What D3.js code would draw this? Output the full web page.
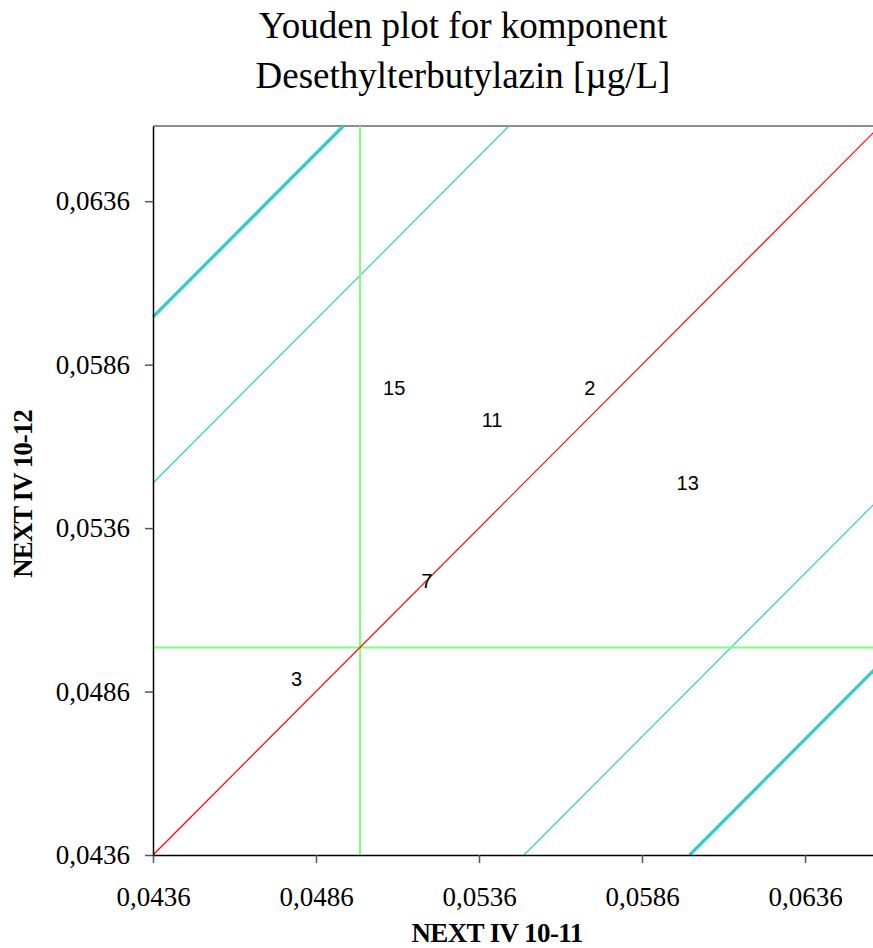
<!DOCTYPE html>
<html>
<head>
<meta charset="utf-8">
<script src="https://cdn.jsdelivr.net/npm/d3@7"></script>
<style>
  html, body { margin: 0; padding: 0; background: #fff; }
  svg { display: block; }
</style>
</head>
<body>
<div id="chart"></div>
<script>
// ---- data ----
const titleLines = ["Youden plot for komponent", "Desethylterbutylazin [\u00b5g/L]"];
const xTitle = "NEXT IV 10-11";
const yTitle = "NEXT IV 10-12";
const tickValues = [0.0436, 0.0486, 0.0536, 0.0586, 0.0636];
const axisMin = 0.0436, axisMax = 0.0659;
const labIds   = ["15", "11", "2", "13", "7", "3"];
const sampleA  = [0.0510, 0.0540, 0.0570, 0.0600, 0.0520, 0.0480];
const sampleB  = [0.0579, 0.0569, 0.0579, 0.0550, 0.0520, 0.0490];
const medianA = 0.04995, medianB = 0.04995;
const diagOffsets  = [0];
const innerOffsets = [-0.01138, 0.01138];
const outerOffsets = [-0.01646, 0.01646];

// ---- layout ----
const W = 873, H = 948;
const L = 153, T = 126, R = 880, B = 855;

const svg = d3.select("#chart").append("svg").attr("width", W).attr("height", H);

const x = d3.scaleLinear().domain([axisMin, axisMax]).range([L, R]);
const y = d3.scaleLinear().domain([axisMin, axisMax]).range([B, T]);
const fmt = v => d3.format(".4f")(v).replace(".", ",");

// title
svg.append("g").selectAll("text").data(titleLines).join("text")
  .attr("x", 463).attr("y", (d, i) => 38 + i * 50)
  .attr("text-anchor", "middle")
  .attr("font-family", "'Liberation Serif','Times New Roman',serif")
  .attr("font-size", 37).attr("fill", "#000").text(d => d);

// top frame border
svg.append("line").attr("x1", L).attr("x2", R).attr("y1", T).attr("y2", T)
  .attr("stroke", "#8c8c8c").attr("stroke-width", 2);

const plot = svg.append("g");

// compute segment of y = x + k clipped to the square domain
function seg(c) {
  const k = (medianB - medianA) + c;
  const x0 = Math.max(axisMin, axisMin - k), x1 = Math.min(axisMax, axisMax - k);
  return [x0, x0 + k, x1, x1 + k];
}
function drawOffsets(offs, color, width) {
  plot.append("g").selectAll("line").data(offs.map(seg)).join("line")
    .attr("x1", s => x(s[0])).attr("y1", s => y(s[1]))
    .attr("x2", s => x(s[2])).attr("y2", s => y(s[3]))
    .attr("stroke", color).attr("stroke-width", width)
    .attr("stroke-linecap", "butt");
}
drawOffsets(outerOffsets, "#33cccc", 3.2);
drawOffsets(innerOffsets, "#33cccc", 1.2);

// median lines
plot.append("line").attr("x1", x(medianA)).attr("x2", x(medianA)).attr("y1", T).attr("y2", B)
  .attr("stroke", "#80ff80").attr("stroke-width", 2);
plot.append("line").attr("x1", L).attr("x2", R).attr("y1", y(medianB)).attr("y2", y(medianB))
  .attr("stroke", "#80ff80").attr("stroke-width", 2);

drawOffsets(diagOffsets, "#ff0000", 1.2);

// lab labels
svg.append("g").selectAll("text").data(labIds).join("text")
  .attr("x", (d, i) => x(sampleA[i])).attr("y", (d, i) => y(sampleB[i]))
  .attr("dy", "0.36em").attr("text-anchor", "middle")
  .attr("font-family", "'Liberation Sans',Arial,sans-serif")
  .attr("font-size", 20).attr("fill", "#000").text(d => d);

// axes
const axisFont = "'Liberation Serif','Times New Roman',serif";
const gx = svg.append("g").attr("transform", `translate(0,${B})`)
  .call(d3.axisBottom(x).tickValues(tickValues).tickFormat(fmt).tickSize(8).tickSizeOuter(0).tickPadding(24));
const gy = svg.append("g").attr("transform", `translate(${L},0)`)
  .call(d3.axisLeft(y).tickValues(tickValues).tickFormat(fmt).tickSize(8).tickSizeOuter(0).tickPadding(15));
[gx, gy].forEach(g => {
  g.select(".domain").attr("stroke", "#000").attr("stroke-width", 1.5);
  g.selectAll(".tick line").attr("stroke", "#555").attr("stroke-width", 1.5);
  g.selectAll(".tick text").attr("font-family", axisFont).attr("font-size", 27).attr("fill", "#000");
});

// axis titles
svg.append("text").attr("x", 497).attr("y", 942).attr("text-anchor", "middle")
  .attr("font-family", axisFont).attr("font-weight", "bold").attr("font-size", 27)
  .attr("letter-spacing", "-0.6").text(xTitle);
svg.append("text").attr("transform", "translate(32,494) rotate(-90)").attr("text-anchor", "middle")
  .attr("font-family", axisFont).attr("font-weight", "bold").attr("font-size", 27)
  .attr("letter-spacing", "-1").text(yTitle);
</script>
</body>
</html>
